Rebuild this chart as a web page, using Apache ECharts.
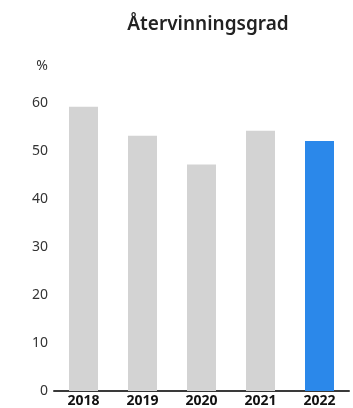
<!DOCTYPE html>
<html>
<head>
<meta charset="utf-8">
<script src="https://cdn.jsdelivr.net/npm/echarts@6/dist/echarts.min.js"></script>
<style>html,body{margin:0;padding:0;background:#fff}#c{width:353px;height:408px}</style>
</head>
<body>
<div id="c"></div>
<script>
var categories = ['2018', '2019', '2020', '2021', '2022'];
var values = [59.2, 53.2, 47.2, 54.2, 52.1];
var yTicks = [0, 10, 20, 30, 40, 50, 60];
var colors = ['#d3d3d3', '#d3d3d3', '#d3d3d3', '#d3d3d3', '#2b88ea'];
var font = '"Noto Sans", sans-serif';
var chart = echarts.init(document.getElementById('c'));
chart.setOption({
  animation: false,
  title: {
    text: 'Återvinningsgrad',
    left: 203, top: 10, textAlign: 'center',
    textStyle: { fontFamily: font, fontSize: 19, fontWeight: 600, color: '#222' }
  },
  grid: { left: 54, right: 4, top: 103, bottom: 15, containLabel: false },
  xAxis: {
    type: 'category', data: categories,
    axisLine: { lineStyle: { color: '#3a3a3a', width: 2 } },
    axisTick: { show: false },
    axisLabel: { fontFamily: font, fontSize: 14, fontWeight: 'bold', color: '#111', margin: 3 }
  },
  yAxis: {
    type: 'value', min: 0, max: 60, interval: 10,
    name: '%', nameLocation: 'end', nameGap: 30,
    nameTextStyle: { fontFamily: font, fontSize: 14, color: '#333', align: 'right', padding: [0, 6, 0, 0] },
    splitLine: { show: false },
    axisLine: { show: false }, axisTick: { show: false },
    axisLabel: { fontFamily: font, fontSize: 14, color: '#333', margin: 6 }
  },
  series: [{
    type: 'bar', barWidth: 29,
    data: values.map(function (v, i) { return { value: v, itemStyle: { color: colors[i] } }; })
  }]
});
</script>
</body>
</html>
